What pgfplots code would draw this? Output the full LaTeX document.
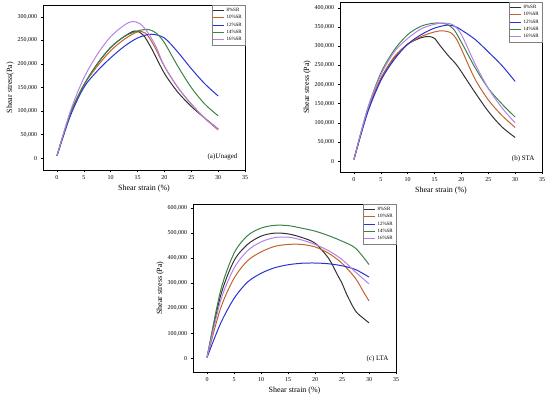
\documentclass[border=0pt]{standalone}
\usepackage{fontspec}
\setmainfont{Liberation Serif}
\usepackage{pgfplots}
\pgfplotsset{compat=1.18}
\definecolor{cA}{RGB}{50,50,50}
\definecolor{cB}{RGB}{196,98,45}
\definecolor{cC}{RGB}{40,50,210}
\definecolor{cD}{RGB}{60,130,70}
\definecolor{cE}{RGB}{180,130,230}
\pgfplotsset{
  panel/.style={
    scale only axis,
    anchor=south west,
    xmin=-2.6, xmax=35,
    xtick={0,5,...,35},
    minor x tick num=1,
    tick align=outside,
    xtick pos=left, ytick pos=left,
    major tick length=2.5pt, minor tick length=1.5pt,
    tick style={black, line width=0.5pt},
    axis line style={line width=0.6pt},
    scaled y ticks=false,
    /pgf/number format/assume math mode=true,
    yticklabel style={/pgf/number format/fixed, /pgf/number format/1000 sep={,}},
    ticklabel style={font=\fontsize{6}{7}\selectfont},
    xlabel={Shear strain (\%)},
    label style={font=\fontsize{8}{9}\selectfont},
    xlabel style={yshift=2pt},
    ylabel style={yshift=-3pt},
    legend style={at={(1,1)}, anchor=north east, draw=gray, line width=0.4pt,
      font=\fontsize{5}{5.5}\selectfont, inner sep=1pt, row sep=-1.5pt,
      cells={anchor=west}},
    legend image code/.code={\draw[#1, line width=1pt] (0cm,0cm) -- (0.38cm,0cm);},
    every axis plot/.append style={smooth, line width=1pt, no marks},
  }
}
\begin{document}
\begin{tikzpicture}
\useasboundingbox (0,0) rectangle (550bp,399bp);
% (a) Unaged
\begin{axis}[panel, at={(43bp,229bp)}, width=202bp, height=165bp,
  ymin=-25000, ymax=325000, ytick={0,50000,...,300000},
  ylabel={Shear stress(Pa)}]
\addplot[cA] coordinates {(0,5000)(2.5,95000)(5,155000)(7.5,200000)(10,235000)(12.5,258000)(14.5,270000)(16,262000)(17.5,235000)(20,180000)(22.5,140000)(25,110000)(27.5,85000)(30,62000)};
\addplot[cB] coordinates {(0,5000)(2.5,95000)(5,155000)(7.5,195000)(10,228000)(12.5,252000)(15,268000)(16.5,265000)(18,240000)(20,195000)(22.5,150000)(25,115000)(27.5,85000)(30,60000)};
\addplot[cC] coordinates {(0,5000)(2.5,90000)(5,150000)(7.5,185000)(10,213000)(12.5,237000)(15,255000)(17.5,263000)(20,255000)(22.5,225000)(25,190000)(27.5,158000)(30,132000)};
\addplot[cD] coordinates {(0,5000)(2.5,95000)(5,155000)(7.5,200000)(10,235000)(12.5,258000)(15,270000)(17,273000)(18.5,265000)(20,245000)(22.5,195000)(25,150000)(27.5,115000)(30,90000)};
\addplot[cE] coordinates {(0,5000)(2.5,100000)(5,170000)(7.5,220000)(10,258000)(12.5,282000)(14,290000)(15.5,285000)(17,265000)(18.5,235000)(20,195000)(22.5,150000)(25,115000)(27.5,85000)(30,62000)};
\legend{8\%SR,10\%SR,12\%SR,14\%SR,16\%SR}
\node[anchor=south east, font=\fontsize{7}{8}\selectfont] at (rel axis cs:0.98,0.04) {(a)\textit{U}naged};
\end{axis}
% (b) STA
\begin{axis}[panel, at={(340bp,227bp)}, width=202bp, height=170bp,
  ymin=-28000, ymax=415000, ytick={0,50000,...,400000},
  ylabel={Shear stress (Pa)}]
\addplot[cA] coordinates {(0,5000)(2.5,130000)(5,215000)(7.5,270000)(10,305000)(12.5,322000)(14,325000)(15,320000)(16,302000)(17.5,276000)(19,253000)(20,233000)(22.5,180000)(25,130000)(27.5,90000)(30,62000)};
\addplot[cB] coordinates {(0,5000)(2.5,130000)(5,215000)(7.5,272000)(10,305000)(12.5,325000)(15,337000)(16.5,340000)(18,335000)(19,320000)(20,292000)(22.5,215000)(25,160000)(27.5,120000)(30,88000)};
\addplot[cC] coordinates {(0,5000)(2.5,125000)(5,210000)(7.5,265000)(10,305000)(12.5,330000)(15,347000)(17.5,355000)(19,350000)(20,342000)(22.5,318000)(25,285000)(27.5,250000)(30,208000)};
\addplot[cD] coordinates {(0,5000)(2.5,135000)(5,230000)(7.5,290000)(10,330000)(12.5,352000)(15,360000)(17,358000)(18.5,345000)(20,310000)(22.5,245000)(25,190000)(27.5,150000)(30,115000)};
\addplot[cE] coordinates {(0,5000)(2.5,135000)(5,225000)(7.5,285000)(10,320000)(12.5,345000)(15,357000)(17,360000)(18.5,355000)(20,330000)(22.5,255000)(25,190000)(27.5,140000)(30,100000)};
\legend{8\%SR,10\%SR,12\%SR,14\%SR,16\%SR}
\node[anchor=south east, font=\fontsize{7}{8}\selectfont] at (rel axis cs:0.98,0.04) {(b) STA};
\end{axis}
% (c) LTA
\begin{axis}[panel, at={(193bp,27bp)}, width=203bp, height=168bp,
  ymin=-53000, ymax=616000, ytick={0,100000,...,600000},
  ylabel={Shear stress (Pa)}]
\addplot[cA] coordinates {(0,5000)(2.5,250000)(5,390000)(7.5,455000)(10,488000)(12.5,500000)(15,497000)(17.5,483000)(20,460000)(22.5,400000)(24,340000)(25,300000)(26,250000)(27.5,190000)(29,160000)(30,143000)};
\addplot[cB] coordinates {(0,5000)(2.5,200000)(5,320000)(7.5,390000)(10,425000)(12.5,447000)(15,455000)(17.5,455000)(20,445000)(22.5,420000)(25,380000)(27.5,320000)(29,265000)(30,230000)};
\addplot[cC] coordinates {(0,5000)(2.5,140000)(5,240000)(7.5,305000)(10,340000)(12.5,362000)(15,374000)(17.5,380000)(20,381000)(22.5,378000)(25,370000)(27.5,355000)(30,325000)};
\addplot[cD] coordinates {(0,5000)(2.5,270000)(5,420000)(7.5,490000)(10,520000)(12.5,531000)(15,530000)(17.5,520000)(20,508000)(22.5,490000)(25,468000)(27.5,440000)(30,375000)};
\addplot[cE] coordinates {(0,5000)(2.5,230000)(5,360000)(7.5,430000)(10,465000)(12.5,482000)(15,484000)(17.5,473000)(20,455000)(22.5,430000)(25,395000)(27.5,345000)(30,298000)};
\legend{8\%SR,10\%SR,12\%SR,14\%SR,16\%SR}
\node[anchor=south east, font=\fontsize{7}{8}\selectfont] at (rel axis cs:0.98,0.04) {(c) LTA};
\end{axis}
\end{tikzpicture}
\end{document}
